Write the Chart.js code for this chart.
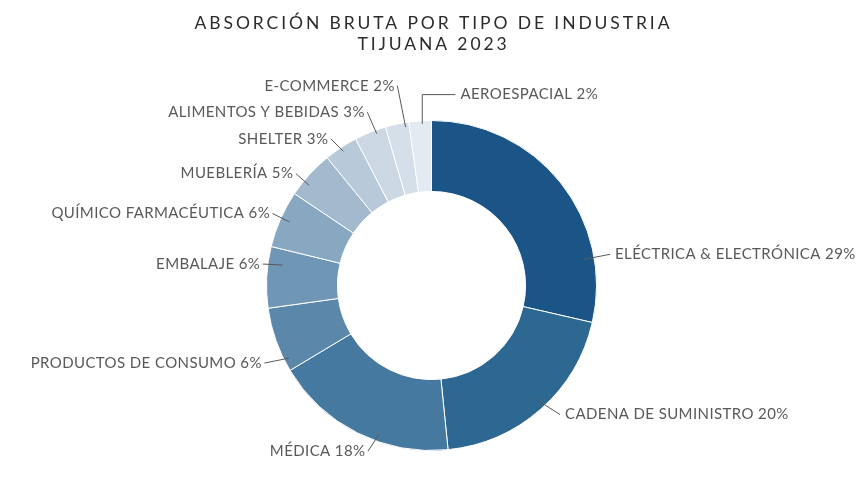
<!DOCTYPE html>
<html><head><meta charset="utf-8">
<script src="https://cdn.jsdelivr.net/npm/chart.js@4.4.1/dist/chart.umd.min.js"></script>
<style>html,body{margin:0;padding:0;background:#fff}#wrap{width:863px;height:496px;position:relative}</style>
</head><body><div id="wrap"><canvas id="c"></canvas></div>
<script>
const titleLines = ["ABSORCIÓN BRUTA POR TIPO DE INDUSTRIA", "TIJUANA 2023"];
const categories = ["ELÉCTRICA & ELECTRÓNICA", "CADENA DE SUMINISTRO", "MÉDICA", "PRODUCTOS DE CONSUMO", "EMBALAJE", "QUÍMICO FARMACÉUTICA", "MUEBLERÍA", "SHELTER", "ALIMENTOS Y BEBIDAS", "E-COMMERCE", "AEROESPACIAL"];
const shares = [28.6, 19.8, 18.0, 6.4, 6.0, 5.6, 4.7, 3.3, 3.1, 2.3, 2.2];
const colors = ["#1B5587", "#2D6893", "#4679A0", "#5A87AA", "#6F97B5", "#88A7C0", "#A2B9CE", "#B8CAD9", "#CBD8E4", "#D4DFE9", "#E4EAF1"];

// leader-line geometry in units of the doughnut's outer radius, relative to its centre
const labelLayout = [
  {a: [0.920, -0.158], e: [1.082, -0.189], side: 'left'},
  {a: [0.628, 0.686], e: [0.779, 0.782], side: 'left'},
  {a: [-0.318, 0.903], e: [-0.385, 1.004], side: 'right'},
  {a: [-0.862, 0.440], e: [-1.013, 0.470], side: 'right'},
  {a: [-0.902, -0.124], e: [-1.023, -0.130], side: 'right'},
  {a: [-0.862, -0.386], e: [-0.963, -0.436], side: 'right'},
  {a: [-0.741, -0.607], e: [-0.822, -0.678], side: 'right'},
  {a: [-0.534, -0.813], e: [-0.610, -0.889], side: 'right'},
  {a: [-0.332, -0.920], e: [-0.389, -1.050], side: 'right'},
  {a: [-0.157, -0.960], e: [-0.207, -1.211], side: 'right'},
  {a: [-0.056, -0.980], b: [-0.056, -1.157], e: [0.145, -1.157], side: 'left'}
];

const titlePlugin = {
  id: 'spacedTitle',
  afterDraw(chart) {
    const ctx = chart.ctx;
    ctx.save();
    ctx.fillStyle = '#2b2b2b';
    ctx.font = '17.5px Lato, "DejaVu Sans", sans-serif';
    ctx.textAlign = 'center';
    ctx.textBaseline = 'middle';
    try { ctx.letterSpacing = '2.9px'; } catch (e) {}
    titleLines.forEach((t, i) => ctx.fillText(t, chart.width / 2 + 2, 23 + i * 21));
    ctx.restore();
  }
};

const outsideLabels = {
  id: 'outsideLabels',
  afterDatasetsDraw(chart) {
    const meta = chart.getDatasetMeta(0);
    const ctx = chart.ctx;
    const arc0 = meta.data[0];
    const cx = arc0.x, cy = arc0.y, R = arc0.outerRadius;
    ctx.save();
    ctx.strokeStyle = '#595959';
    ctx.lineWidth = 1;
    ctx.fillStyle = '#595959';
    ctx.font = '15px Lato, "DejaVu Sans", sans-serif';
    ctx.textBaseline = 'middle';
    try { ctx.letterSpacing = '0.4px'; } catch (e) {}
    labelLayout.forEach((L, i) => {
      const P = p => [cx + p[0] * R, cy + p[1] * R];
      const a = P(L.a), e = P(L.e);
      ctx.beginPath();
      ctx.moveTo(a[0], a[1]);
      if (L.b) { const b = P(L.b); ctx.lineTo(b[0], b[1]); }
      ctx.lineTo(e[0], e[1]);
      ctx.stroke();
      const txt = categories[i] + ' ' + Math.round(shares[i]) + '%';
      if (L.side === 'left') { ctx.textAlign = 'left'; ctx.fillText(txt, e[0] + 5, e[1]); }
      else { ctx.textAlign = 'right'; ctx.fillText(txt, e[0] - 2.5, e[1]); }
    });
    ctx.restore();
  }
};

new Chart(document.getElementById('c'), {
  type: 'doughnut',
  data: {
    labels: categories,
    datasets: [{
      data: shares,
      backgroundColor: colors,
      borderColor: '#ffffff',
      borderWidth: 1
    }]
  },
  options: {
    responsive: true,
    maintainAspectRatio: false,
    animation: false,
    events: [],
    cutout: '57%',
    layout: {padding: {top: 120, bottom: 45, left: 0, right: 0}},
    plugins: {legend: {display: false}, tooltip: {enabled: false}, title: {display: false}}
  },
  plugins: [titlePlugin, outsideLabels]
});
</script>
</body></html>
